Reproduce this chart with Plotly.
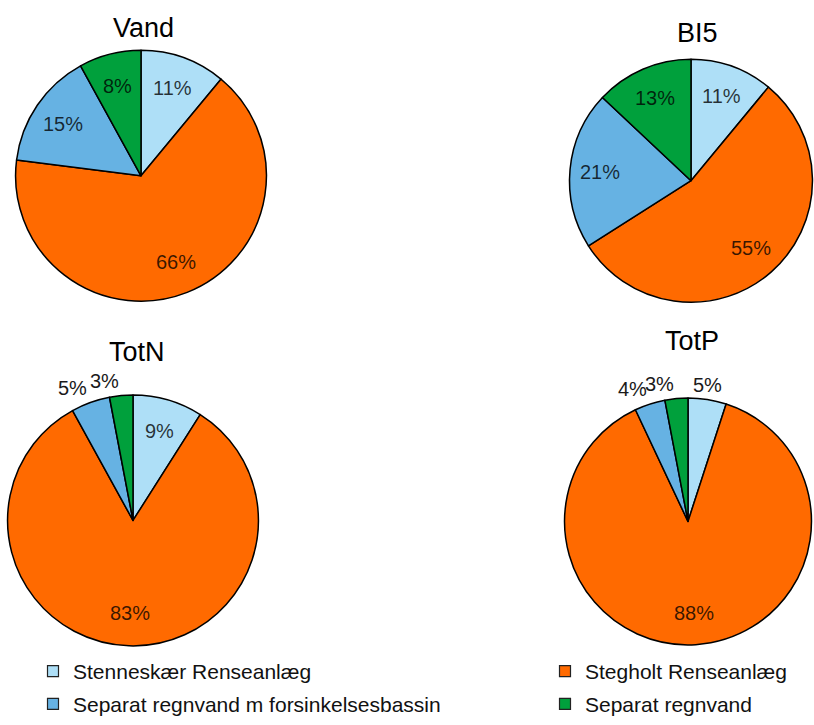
import math
import plotly.graph_objects as go

W, H = 814, 725

categories = ["Stenneskær Renseanlæg", "Stegholt Renseanlæg",
              "Separat regnvand m forsinkelsesbassin", "Separat regnvand"]
colors = ["#AEDFF7", "#FF6A00", "#66B2E3", "#00A03C"]

titles = ["Vand", "BI5", "TotN", "TotP"]
vand = [11, 66, 15, 8]
bi5 = [11, 55, 21, 13]
totn = [9, 83, 5, 3]
totp = [5, 88, 4, 3]
series = [vand, bi5, totn, totp]

# label placement per slice (True = outside the pie)
outside = [
    [False, False, False, False],
    [False, False, False, False],
    [False, False, True, True],
    [True, False, True, True],
]

# pie domains in pixels: (x0, x1, y_top, y_bottom)
dom_px = [
    (14, 268, 51, 305),
    (568, 814, 60, 306),
    (6, 260, 400, 654),
    (563, 813, 403, 653),
]
title_px = [(143, 28), (697, 33), (137, 356), (692, 345)]

FONT = "Liberation Sans, Arial, sans-serif"
LBL = 20

fig = go.Figure()
for i, vals in enumerate(series):
    x0, x1, yt, yb = dom_px[i]
    fig.add_trace(go.Pie(
        labels=categories, values=vals, sort=False, direction="clockwise",
        rotation=0, textinfo="none",
        marker=dict(colors=colors, line=dict(color="black", width=1.5)),
        domain=dict(x=[x0 / W, x1 / W], y=[1 - yb / H, 1 - yt / H]),
        showlegend=False, hoverinfo="label+percent",
    ))
    # percentage labels placed from the slice angles derived from the data
    cx, cy = (x0 + x1) / 2, (yt + yb) / 2
    r = min(x1 - x0, yb - yt) / 2
    total = sum(vals)
    cum = 0
    for j, v in enumerate(vals):
        th = math.radians((cum + v / 2) / total * 360)
        cum += v
        s, c = math.sin(th), math.cos(th)
        if outside[i][j]:
            d = r + 2
            xa = "right" if s < -0.05 else ("left" if s > 0.5 else "center")
            fig.add_annotation(text=f"{v}%", x=(cx + d * s) / W, y=1 - (cy - d * c) / H,
                               xref="paper", yref="paper", showarrow=False,
                               xanchor=xa, yanchor="bottom",
                               font=dict(family=FONT, size=LBL, color="#1a1a1a"))
        else:
            d = 0.74 * r
            fig.add_annotation(text=f"{v}%", x=(cx + d * s) / W, y=1 - (cy - d * c) / H,
                               xref="paper", yref="paper", showarrow=False,
                               xanchor="center", yanchor="middle",
                               font=dict(family=FONT, size=LBL, color="rgba(0,0,0,0.78)"))

# legend entries, one legend box each (2 x 2 grid)
leg_pos = [(33, 680), (545, 680), (33, 713), (545, 713)]
leg_names = ["legend", "legend2", "legend3", "legend4"]
for k in range(4):
    fig.add_trace(go.Scatter(
        x=[None], y=[None], mode="markers", name=categories[k],
        marker=dict(symbol="square", size=11, color=colors[k],
                    line=dict(color="#222", width=1.2)),
        legend=leg_names[k],
    ))

for t, (tx, ty) in zip(titles, title_px):
    fig.add_annotation(text=t, x=tx / W, y=1 - ty / H, xref="paper", yref="paper",
                       showarrow=False, xanchor="center", yanchor="middle",
                       font=dict(family=FONT, size=27, color="black"))

legends = {}
for k in range(4):
    lx, ly = leg_pos[k]
    legends[leg_names[k]] = dict(
        x=lx / W, y=1 - ly / H, xanchor="left", yanchor="middle",
        font=dict(family=FONT, size=21, color="#111"),
        bgcolor="rgba(0,0,0,0)", itemclick=False, itemdoubleclick=False)

fig.update_layout(
    width=W, height=H,
    margin=dict(l=0, r=0, t=0, b=0),
    paper_bgcolor="white", plot_bgcolor="white",
    xaxis=dict(visible=False), yaxis=dict(visible=False),
    **legends,
)

fig.write_html("out.html")
